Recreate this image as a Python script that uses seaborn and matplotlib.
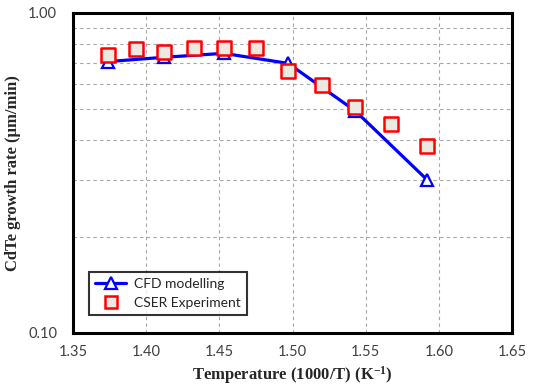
import numpy as np
import pandas as pd
import matplotlib
matplotlib.use("Agg")
import matplotlib.pyplot as plt
import seaborn as sns
from matplotlib.lines import Line2D
from matplotlib.ticker import MultipleLocator, FixedLocator, NullFormatter, FixedFormatter

# data
cfd_x = [1.374, 1.412, 1.453, 1.497, 1.543, 1.592]
cfd_y = [0.705, 0.727, 0.748, 0.696, 0.494, 0.301]
exp_x = [1.374, 1.393, 1.412, 1.433, 1.453, 1.475, 1.497, 1.520, 1.543, 1.567, 1.592]
exp_y = [0.739, 0.772, 0.757, 0.776, 0.779, 0.779, 0.660, 0.596, 0.510, 0.451, 0.385]
x_ticks = [1.35, 1.40, 1.45, 1.50, 1.55, 1.60, 1.65]
y_major = [0.1, 1.0]
y_minor = [0.2, 0.3, 0.4, 0.5, 0.6, 0.7, 0.8, 0.9]

sns.set_style("white")
plt.rcParams['font.family'] = ['Lato', 'DejaVu Sans']
plt.rcParams['mathtext.fontset'] = 'custom'
plt.rcParams['mathtext.rm'] = 'Liberation Serif:bold'
plt.rcParams['mathtext.it'] = 'Liberation Serif:bold'
plt.rcParams['mathtext.bf'] = 'Liberation Serif:bold'

fig = plt.figure(figsize=(5.47, 3.87), dpi=100)
ax = fig.add_axes([73/547, 1-333/387, (512-73)/547, (333-13)/387])

cfd = pd.DataFrame({"x": cfd_x, "y": cfd_y})
exp = pd.DataFrame({"x": exp_x, "y": exp_y})

sns.lineplot(data=cfd, x="x", y="y", ax=ax, color="#0000FF", lw=2.3,
             marker="^", markersize=9, markerfacecolor="white",
             markeredgecolor="#0000FF", markeredgewidth=1.6, zorder=3)
sns.scatterplot(data=exp, x="x", y="y", ax=ax, marker="s", s=95,
                facecolor="#ECEAE0", edgecolor="#FF0000", linewidth=1.8, zorder=4)

ax.set_yscale("log")
ax.set_xlim(1.35, 1.65)
ax.set_ylim(0.1, 1.0)

ax.xaxis.set_major_locator(FixedLocator(x_ticks))
ax.set_xticklabels([f"{v:.2f}" for v in x_ticks])
ax.xaxis.set_minor_locator(MultipleLocator(0.01))
ax.yaxis.set_major_locator(FixedLocator(y_major))
ax.yaxis.set_major_formatter(FixedFormatter([f"{v:.2f}" for v in y_major]))
ax.yaxis.set_minor_locator(FixedLocator(y_minor))
ax.yaxis.set_minor_formatter(NullFormatter())

ax.grid(True, which="major", axis="x", color="#A6A6A6", ls=(0, (3, 3)), lw=0.8)
ax.grid(True, which="minor", axis="y", color="#A6A6A6", ls=(0, (3, 3)), lw=0.8)
ax.grid(False, which="minor", axis="x")
ax.set_axisbelow(True)

for s in ax.spines.values():
    s.set_visible(True)
    s.set_color("black")
    s.set_linewidth(2.2)

ax.tick_params(axis="both", which="major", direction="inout", length=7, width=2,
               labelsize=10.5, labelcolor="#404040", color="black", pad=5)
ax.tick_params(axis="y", which="major", pad=8)
ax.tick_params(axis="x", which="minor", direction="inout", length=5, width=2, color="black")
ax.tick_params(axis="y", which="minor", direction="inout", length=5, width=2, color="black")
ax.tick_params(axis="x", which="both", top=False)
ax.tick_params(axis="y", which="both", right=False)

ax.set_xlabel("Temperature (1000/T) (K$^{-1}$)", family="Liberation Serif",
              fontweight="bold", fontsize=12, labelpad=4)
ax.set_ylabel("CdTe growth rate (µm/min)", family="Liberation Serif",
              fontweight="bold", fontsize=12, labelpad=5)

handles = [
    Line2D([], [], color="#0000FF", lw=2.3, marker="^", markersize=9,
           markerfacecolor="white", markeredgecolor="#0000FF", markeredgewidth=1.6),
    Line2D([], [], ls="none", marker="s", markersize=9, markerfacecolor="#ECEAE0",
           markeredgecolor="#FF0000", markeredgewidth=1.8),
]
leg = ax.legend(handles, ["CFD modelling", "CSER Experiment"], loc="lower left",
                bbox_to_anchor=(16/439, 18/320), borderaxespad=0, fontsize=10,
                frameon=True, fancybox=False, edgecolor="black", handlelength=2.2,
                borderpad=0.45, labelspacing=0.5, handletextpad=0.6)
leg.get_frame().set_linewidth(1.5)

fig.savefig("out.png", dpi=100)
